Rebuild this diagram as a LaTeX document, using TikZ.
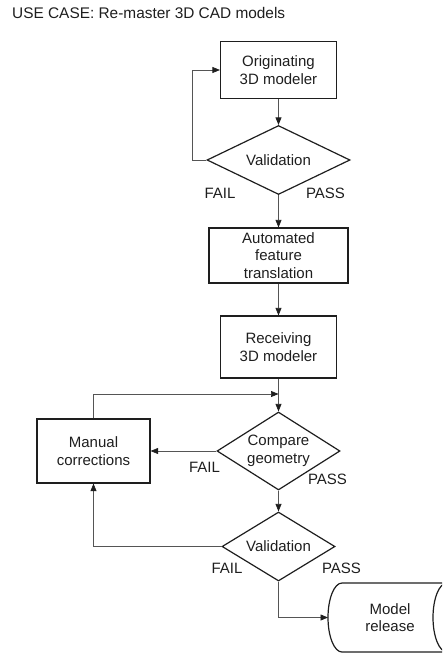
\documentclass[tikz,border=0pt]{standalone}
\usepackage{fontspec}
\setmainfont{Liberation Sans}
\usetikzlibrary{shapes.geometric,arrows.meta}

\definecolor{inkc}{HTML}{1E1E1E}
\definecolor{linec}{HTML}{555555}

\tikzset{
  every node/.style={font=\fontsize{15}{17.5}\selectfont, text=inkc},
  procbox/.style={draw=inkc, line width=1.2pt, rectangle, align=center, inner sep=0pt},
  decision/.style={draw=inkc, line width=1.2pt, diamond, aspect=1.6, align=center, inner sep=0pt},
  flow/.style={draw=linec, line width=0.7pt},
  arr/.style={flow, -{Triangle[length=7.5pt,width=6pt,color=inkc]}},
  tag/.style={inner sep=0pt}
}

\begin{document}
\begin{tikzpicture}[x=1pt,y=1pt]
  % canvas: 442 x 653, y measured downward as negative values
  \useasboundingbox (0,0) rectangle (442,-653);
  \clip (0,0) rectangle (442,-653);

  \node[tag, anchor=base west, font=\fontsize{15.4}{18}\selectfont] (title) at (12,-18.3)
    {USE CASE: Re-master 3D CAD models};

  % process steps
  \node[procbox, minimum width=116pt, minimum height=57pt] (orig) at (278.5,-70)
    {Originating\\3D modeler};
  \node[decision, minimum width=143pt, minimum height=69pt] (val1) at (278.5,-160)
    {Validation};
  \node[procbox, minimum width=139pt, minimum height=55pt] (xlate) at (278.5,-255.5)
    {Automated\\feature\\translation};
  \node[procbox, minimum width=116pt, minimum height=62pt] (recv) at (278.5,-347)
    {Receiving\\3D modeler};
  \coordinate (join) at (278.5,-394);
  \node[decision, minimum width=123pt, minimum height=78pt] (cmp) at (278.5,-451)
    {Compare\\geometry};
  \node[procbox, minimum width=113pt, minimum height=64pt] (manual) at (93.5,-451)
    {Manual\\corrections};
  \node[decision, minimum width=113pt, minimum height=69pt] (val2) at (278.5,-546.5)
    {Validation};

  % storage drum for the released model
  \coordinate (drumleft) at (328,-617.5);
  \draw[draw=inkc, line width=1.2pt]
    (342,-583) arc[start angle=90, end angle=270, x radius=14, y radius=34.5]
    -- (447,-652) (342,-583) -- (447,-583);
  \draw[draw=inkc, line width=1.2pt] (447,-617.5) ellipse[x radius=14, y radius=34.5];
  \node[tag, align=center] (release) at (390,-617.5) {Model\\release};

  % decision labels
  \node[tag] (fail1) at (220,-193) {FAIL};
  \node[tag] (pass1) at (325.5,-193) {PASS};
  \node[tag] (fail2) at (204.5,-467) {FAIL};
  \node[tag] (pass2) at (327.5,-479) {PASS};
  \node[tag] (fail3) at (227,-568) {FAIL};
  \node[tag] (pass3) at (341.5,-568) {PASS};

  % connectors
  \draw[arr] (orig.south) -- (val1.north);
  \draw[arr] (val1.west) -- ++(-14,0) |- (orig.west);
  \draw[arr] (val1.south) -- (xlate.north);
  \draw[arr] (xlate.south) -- (recv.north);
  \draw[flow] (recv.south) -- (join);
  \draw[arr] (manual.north) |- (join);
  \draw[arr] (join) -- (cmp.north);
  \draw[arr] (cmp.west) -- (manual.east);
  \draw[arr] (cmp.south) -- (val2.north);
  \draw[arr] (val2.west) -| (manual.south);
  \draw[arr] (val2.south) |- (drumleft);
\end{tikzpicture}
\end{document}
